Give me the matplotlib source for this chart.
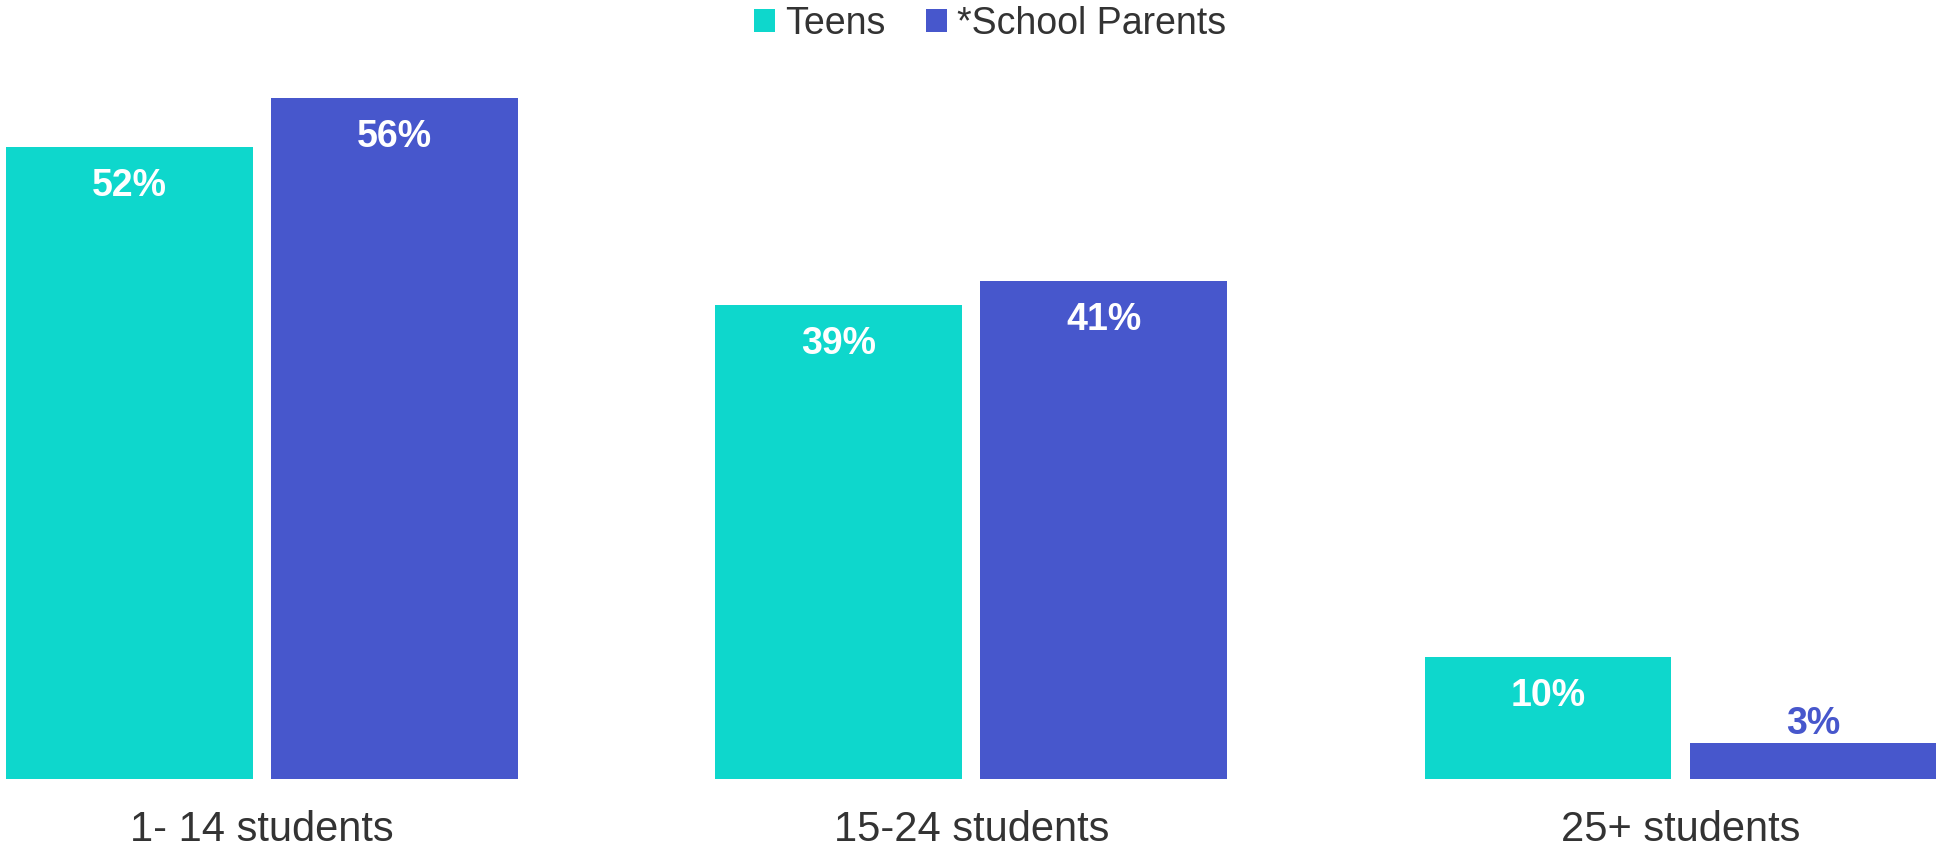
import matplotlib
import matplotlib.pyplot as plt
import numpy as np

plt.rcParams['font.family'] = ['Liberation Sans', 'DejaVu Sans']

categories = ["1- 14 students", "15-24 students", "25+ students"]
series_names = ["Teens", "*School Parents"]
teens = [52, 39, 10]
parents = [56, 41, 3]
colors = ["#0ED7CC", "#4757CC"]

fig = plt.figure(figsize=(19.36, 8.47), dpi=100)
ax = fig.add_axes([0, 68 / 847, 1, 1 - 68 / 847])

x = np.arange(len(categories))
w = 0.348
off = 0.187
b1 = ax.bar(x - off, teens, w, color=colors[0], label=series_names[0])
b2 = ax.bar(x + off, parents, w, color=colors[1], label=series_names[1])

# labels inside bars, except when bar is too short
for bars, vals, col in [(b1, teens, colors[0]), (b2, parents, colors[1])]:
    for bar, v in zip(bars, vals):
        cx = bar.get_x() + bar.get_width() / 2
        if v >= 8:
            ax.annotate(f"{v}%", (cx, v), xytext=(0, -28), textcoords="offset points",
                        ha="center", va="center", color="white", fontsize=27,
                        fontweight="bold")
        else:
            ax.annotate(f"{v}%", (cx, v), xytext=(0, 13), textcoords="offset points",
                        ha="center", va="center", color=col, fontsize=27,
                        fontweight="bold")

ax.set_xlim(-0.369, 2.360)
ax.set_ylim(0, 64.1)
ax.set_xticks(x)
ax.set_xticklabels(categories, fontsize=30, color="#333333")
ax.tick_params(axis="x", length=0, pad=22)
ax.set_yticks([])
for s in ax.spines.values():
    s.set_visible(False)

fig.legend(loc="center", bbox_to_anchor=(990 / 1936, 1 - 24 / 847), ncol=2, frameon=False,
           fontsize=27, handlelength=0.56, handleheight=0.56, handletextpad=0.27,
           columnspacing=1.1, labelcolor="#333333", borderpad=0)

fig.savefig("out.png", dpi=100)
